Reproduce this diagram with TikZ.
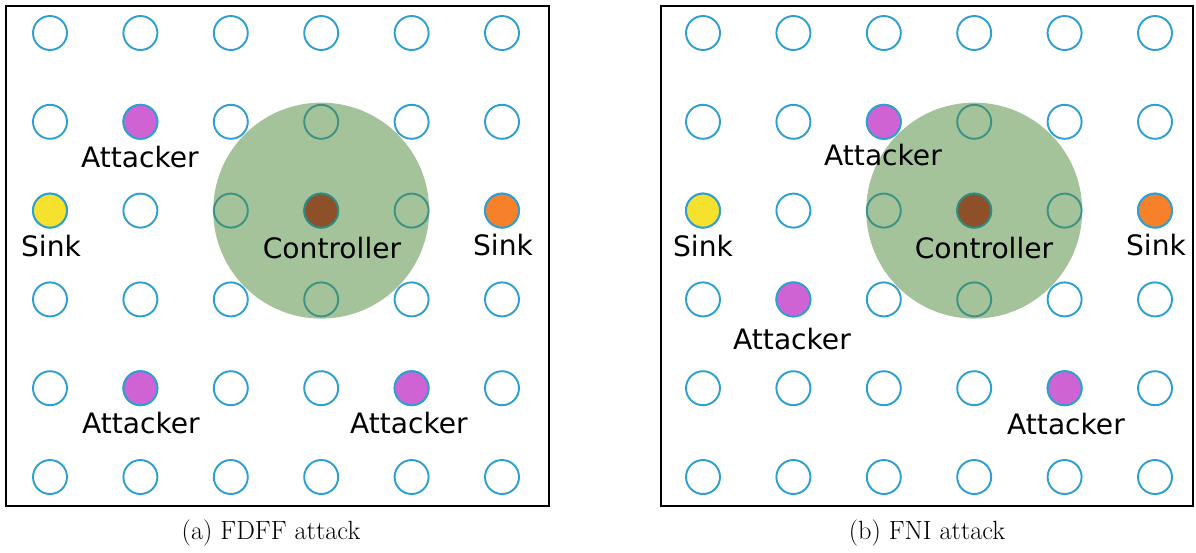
\documentclass[tikz,border=0pt]{standalone}
\usepackage{fontspec}
\usetikzlibrary{positioning}
\newfontfamily\lblfont{DejaVu Sans}
\definecolor{nodeblue}{HTML}{2E9FD3}
\definecolor{attackfill}{HTML}{CF63D3}
\definecolor{sinkyellow}{HTML}{F6E12C}
\definecolor{sinkorange}{HTML}{F7812A}
\definecolor{ctrlfill}{HTML}{8E5029}
\definecolor{ctrledge}{HTML}{2F8B82}
\definecolor{radiogreen}{HTML}{4B8735}

\begin{document}
\begin{tikzpicture}[x=0.02cm,y=-0.02cm]
 \tikzstyle{sensor}=[circle,draw=nodeblue,line width=1.1pt,minimum size=0.68cm,inner sep=0pt]
 \tikzstyle{attacker}=[sensor,fill=attackfill]
 \tikzstyle{sinkL}=[sensor,fill=sinkyellow]
 \tikzstyle{sinkR}=[sensor,fill=sinkorange]
 \tikzstyle{ctrl}=[sensor,draw=ctrledge,fill=ctrlfill]
 \tikzstyle{radio}=[circle,fill=radiogreen,fill opacity=0.5,minimum size=4.32cm,inner sep=0pt]
 \tikzstyle{lbl}=[font=\lblfont\fontsize{16}{18}\selectfont,inner sep=0pt]
 \tikzstyle{subcap}=[font=\fontsize{15}{18}\selectfont,inner sep=0pt]
 \tikzstyle{frame}=[draw=black,line width=1.2pt]
 \useasboundingbox (0,0) rectangle (1196,552);

 % the two fields
 \draw[frame] (6,6) rectangle (549,506);
 \draw[frame] (661,6) rectangle (1193,506);

 % 6x6 grid of sensor nodes in each field
 \foreach \i in {0,...,5}
  \foreach \j in {0,...,5} {
   \node[sensor] (a-\i-\j) at ({50+90.4*\i},{33+88.8*\j}) {};
   \node[sensor] (b-\i-\j) at ({703+90.4*\i},{33+88.8*\j}) {};
  }

 % controller range
 \node[radio] (radioA) at (a-3-2) {};
 \node[radio] (radioB) at (b-3-2) {};

 % (a) FDFF attack
 \node[attacker] (atkA1) at (a-1-1) {};
 \node[attacker] (atkA2) at (a-1-4) {};
 \node[attacker] (atkA3) at (a-4-4) {};
 \node[sinkL] (sinkA1) at (a-0-2) {};
 \node[sinkR] (sinkA2) at (a-5-2) {};
 \node[ctrl] (ctrlA) at (a-3-2) {};
 \node[lbl] (atkA1l) at (140,157) {Attacker};
 \node[lbl] (atkA2l) at (141,423) {Attacker};
 \node[lbl] (atkA3l) at (409,423) {Attacker};
 \node[lbl] (sinkA1l) at (51,246) {Sink};
 \node[lbl] (sinkA2l) at (503,245) {Sink};
 \node[lbl] (ctrlAl) at (332,248) {Controller};

 % (b) FNI attack
 \node[attacker] (atkB1) at (b-2-1) {};
 \node[attacker] (atkB2) at (b-1-3) {};
 \node[attacker] (atkB3) at (b-4-4) {};
 \node[sinkL] (sinkB1) at (b-0-2) {};
 \node[sinkR] (sinkB2) at (b-5-2) {};
 \node[ctrl] (ctrlB) at (b-3-2) {};
 \node[lbl] (atkB1l) at (883,155) {Attacker};
 \node[lbl] (atkB2l) at (792,339) {Attacker};
 \node[lbl] (atkB3l) at (1066,424) {Attacker};
 \node[lbl] (sinkB1l) at (703,246) {Sink};
 \node[lbl] (sinkB2l) at (1156,245) {Sink};
 \node[lbl] (ctrlBl) at (984,248) {Controller};

 % captions
 \node[subcap] (capA) at (271,533) {(a) FDFF attack};
 \node[subcap] (capB) at (927,533) {(b) FNI attack};
\end{tikzpicture}
\end{document}
